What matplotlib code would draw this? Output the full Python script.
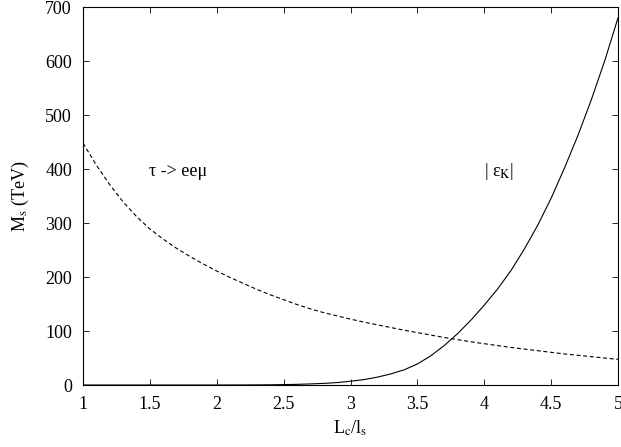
import numpy as np
import matplotlib
matplotlib.use("Agg")
import matplotlib.pyplot as plt

# L_c/l_s grid
x_vals = [1.0, 1.1, 1.2, 1.3, 1.4, 1.5, 1.6, 1.7, 1.8, 1.9, 2.0,
          2.1, 2.2, 2.3, 2.4, 2.5, 2.6, 2.7, 2.8, 2.9, 3.0,
          3.1, 3.2, 3.3, 3.4, 3.5, 3.6, 3.7, 3.8, 3.9, 4.0,
          4.1, 4.2, 4.3, 4.4, 4.5, 4.6, 4.7, 4.8, 4.9, 5.0]

# tau -> ee mu bound (dashed)
tau_eemu = [448, 407, 371, 339, 312, 289, 270, 253, 238, 224, 211,
            199, 188, 177, 167, 158, 149, 141, 134, 128, 122,
            116.5, 111.5, 106.5, 101.5, 97, 92.5, 88, 84, 80, 76.5,
            73, 69.5, 66.5, 63.5, 60.5, 57.5, 55, 52.5, 50, 47.5]

# |eps_K| bound (solid)
eps_k = [0, 0, 0, 0, 0, 0, 0, 0, 0, 0, 0,
         0.05, 0.1, 0.2, 0.4, 0.7, 1.2, 2, 3, 4.5, 7,
         10, 14.5, 20.5, 28, 39, 54, 73, 95, 120, 148,
         178, 212, 252, 296, 346, 402, 462, 528, 600, 680]

plt.rcParams['font.family'] = ['Liberation Serif', 'DejaVu Serif']
plt.rcParams['mathtext.fontset'] = 'stix'

fig = plt.figure(figsize=(6.21, 4.47), dpi=100)
ax = fig.add_axes([0.1337, 0.1387, 0.8615, 0.8456])

ax.plot(x_vals, eps_k, color='black', lw=0.8)
ax.plot(x_vals, tau_eemu, color='black', lw=0.8, dashes=(3.6, 2.4))

ax.set_xlim(1, 5)
ax.set_ylim(0, 700)
ax.set_xticks([1, 1.5, 2, 2.5, 3, 3.5, 4, 4.5, 5])
ax.set_xticklabels(['1', '1.5', '2', '2.5', '3', '3.5', '4', '4.5', '5'])
ax.set_yticks(range(0, 701, 100))
ax.tick_params(axis='both', direction='in', length=4, width=0.6,
               top=True, right=True, labelsize=13)
ax.tick_params(axis='y', pad=8)
ax.tick_params(axis='x', pad=8)
for s in ax.spines.values():
    s.set_linewidth(0.8)

ax.set_xlabel(r'L$_\mathrm{c}$/l$_\mathrm{s}$', fontsize=13, labelpad=4)
ax.set_ylabel(r'M$_\mathrm{s}$ (TeV)', fontsize=13, labelpad=10)

ax.text(1.49, 395, 'τ -> eeμ', fontsize=13, va='center', ha='left')
ax.text(4.0, 395, r'| ε$_\mathrm{K}$|', fontsize=13, va='center', ha='left')

fig.savefig('out.png', dpi=100)
